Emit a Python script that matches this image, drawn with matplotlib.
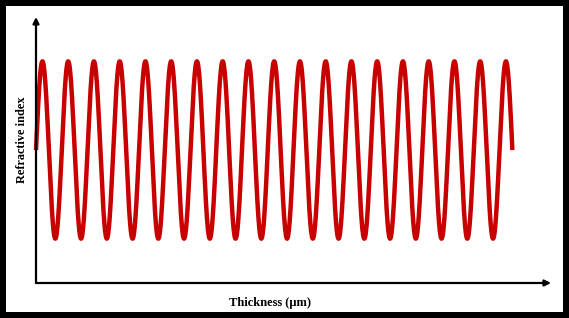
import numpy as np
import matplotlib
matplotlib.use("Agg")
import matplotlib.pyplot as plt
from matplotlib.patches import Rectangle

# Curva do índice (senoide ilustrativa)
n_ciclos = 18.5       # ciclos completos ao longo da espessura
amplitude = 1.0
media = 0.0
x_max = 20.0          # fim do eixo x
y_lim = (-1.5, 1.5)

rotulo_x = "Thickness (\u03bcm)"
rotulo_y = "Refractive index"

W, H = 569, 318
fig = plt.figure(figsize=(W / 100, H / 100), dpi=100)
fig.patch.set_facecolor("white")

# eixos em pixels: x 36..551, y 17..283 (de cima)
ax = fig.add_axes([36 / W, (H - 283) / H, (551 - 36) / W, (283 - 17) / H])
ax.set_facecolor("none")
for s in ax.spines.values():
    s.set_visible(False)
ax.set_xticks([])
ax.set_yticks([])

x = np.linspace(0, n_ciclos, 2000)
y = media + amplitude * np.sin(2 * np.pi * x)
ax.plot(x, y, color="#c80000", lw=3.2, solid_capstyle="butt", clip_on=False)
ax.set_xlim(0, x_max)
ax.set_ylim(*y_lim)

# eixos com setas
seta = dict(arrowstyle="-|>", lw=1.6, color="black", mutation_scale=9,
            shrinkA=0, shrinkB=0)
ax.annotate("", xy=(0, 1), xytext=(0, 0), xycoords="axes fraction",
            arrowprops=seta, annotation_clip=False)
ax.annotate("", xy=(1, 0), xytext=(0, 0), xycoords="axes fraction",
            arrowprops=seta, annotation_clip=False)

fonte = dict(family="Liberation Serif", weight="bold")
fig.text(270 / W, 1 - 303 / H, rotulo_x, ha="center", va="center",
         fontsize=9, **fonte)
fig.text(22 / W, 1 - 140 / H, rotulo_y, ha="center", va="center",
         rotation=90, fontsize=8.8, **fonte)

# moldura preta
fig.patches.append(Rectangle((0, 0), 1, 1, transform=fig.transFigure,
                             fill=False, edgecolor="black", lw=8.64))

fig.savefig("out.png", dpi=100)
